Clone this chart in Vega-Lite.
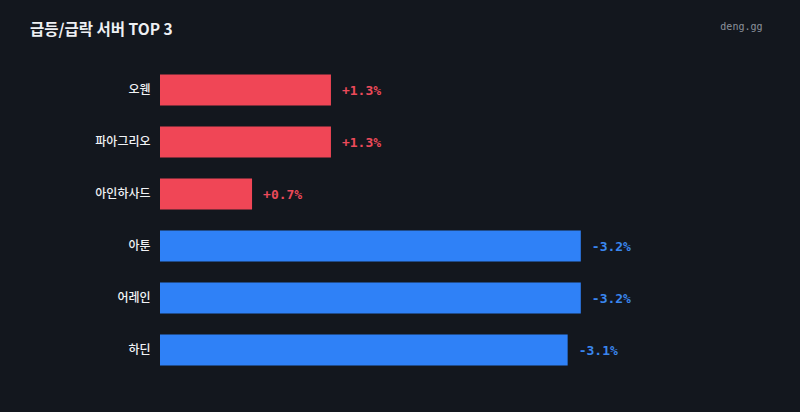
{
  "$schema": "https://vega.github.io/schema/vega-lite/v6.json",
  "width": 526,
  "height": 312,
  "autosize": {"type": "none"},
  "padding": {"left": 160, "top": 64, "right": 114, "bottom": 36},
  "background": "#13171e",
  "title": {
    "text": "급등/급락 서버 TOP 3",
    "anchor": "start",
    "frame": "group",
    "dx": -130,
    "offset": 0,
    "dy": 29,
    "baseline": "alphabetic",
    "font": "Noto Sans CJK KR",
    "fontSize": 15.5,
    "fontWeight": "bold",
    "color": "#eef0f3"
  },
  "data": {
    "values": [
      {"server": "오웬", "size": 1.3, "dir": "up", "label": "+1.3%"},
      {"server": "파아그리오", "size": 1.3, "dir": "up", "label": "+1.3%"},
      {"server": "아인하사드", "size": 0.7, "dir": "up", "label": "+0.7%"},
      {"server": "아툰", "size": 3.2, "dir": "down", "label": "-3.2%"},
      {"server": "어레인", "size": 3.2, "dir": "down", "label": "-3.2%"},
      {"server": "하딘", "size": 3.1, "dir": "down", "label": "-3.1%"}
    ]
  },
  "encoding": {
    "y": {
      "field": "server",
      "type": "nominal",
      "sort": null,
      "scale": {"paddingInner": 0.4, "paddingOuter": 0.2},
      "axis": {
        "title": null,
        "ticks": false,
        "domain": false,
        "labelPadding": 10,
        "labelFont": "Noto Sans CJK KR",
        "labelFontSize": 12,
        "labelFontWeight": 500,
        "labelColor": "#f0f2f5"
      }
    }
  },
  "layer": [
    {
      "mark": {"type": "bar"},
      "encoding": {
        "x": {
          "field": "size",
          "type": "quantitative",
          "scale": {"domain": [0, 4], "nice": false},
          "axis": {
            "orient": "top",
            "title": "deng.gg",
            "titleFont": "DejaVu Sans Mono",
            "titleFontSize": 10,
            "titleFontWeight": "normal",
            "titleColor": "#8b929c",
            "titleAnchor": "end",
            "titleAlign": "right",
            "titleBaseline": "alphabetic",
            "titleX": 602,
            "titleY": -35,
            "labels": false,
            "ticks": false,
            "domain": false,
            "grid": false
          }
        },
        "color": {
          "field": "dir",
          "type": "nominal",
          "scale": {"domain": ["up", "down"], "range": ["#f04656", "#2f81f7"]},
          "legend": null
        }
      }
    },
    {
      "mark": {
        "type": "text",
        "align": "left",
        "baseline": "middle",
        "dx": 11,
        "dy": 1,
        "font": "DejaVu Sans Mono",
        "fontSize": 13,
        "fontWeight": "bold"
      },
      "encoding": {
        "x": {"field": "size", "type": "quantitative"},
        "text": {"field": "label"},
        "color": {
          "field": "dir",
          "type": "nominal",
          "scale": {"domain": ["up", "down"], "range": ["#ec4a5a", "#3a86ee"]},
          "legend": null
        }
      }
    }
  ],
  "resolve": {"scale": {"color": "independent"}},
  "config": {"view": {"stroke": null}}
}
